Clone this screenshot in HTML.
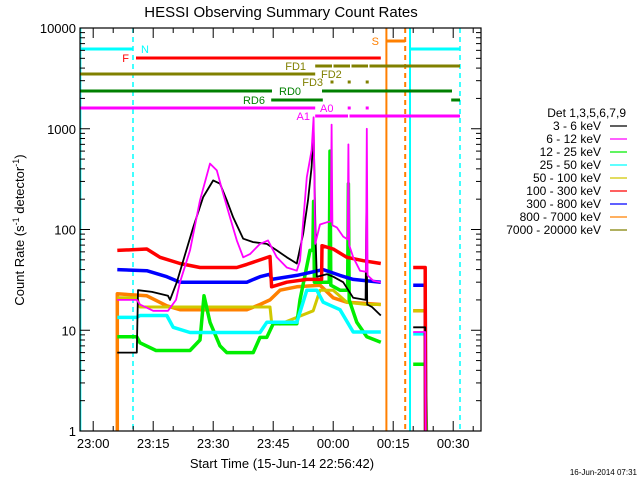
<!DOCTYPE html>
<html><head><meta charset="utf-8"><style>
body{margin:0;background:#fff;}
svg{display:block;font-family:"Liberation Sans",sans-serif;}
</style></head><body>
<svg id="c" width="640" height="480" xmlns="http://www.w3.org/2000/svg">
<rect width="640" height="480" fill="#fff"/>
<text x="281" y="17" font-size="15" text-anchor="middle">HESSI Observing Summary Count Rates</text>
<text transform="translate(24,230) rotate(-90)" font-size="13" text-anchor="middle">Count Rate (s<tspan font-size="9" dy="-5">-1</tspan><tspan dy="5"> detector</tspan><tspan font-size="9" dy="-5">-1</tspan><tspan dy="5">)</tspan></text>
<text x="282" y="468" font-size="13" text-anchor="middle">Start Time (15-Jun-14 22:56:42)</text>
<text x="637" y="475" font-size="8" text-anchor="end">16-Jun-2014 07:31</text>
<g id="marks"></g>
<g id="axes"></g>
<g id="legend"></g>
</svg>
<script>
const xTickLabels=["23:00","23:15","23:30","23:45","00:00","00:15","00:30"];
const yTickLabels=["1","10","100","1000","10000"];
const seriesNames=["3 - 6 keV","6 - 12 keV","12 - 25 keV","25 - 50 keV","50 - 100 keV","100 - 300 keV","300 - 800 keV","800 - 7000 keV","7000 - 20000 keV"];
const seriesColors=["#000","#ff00ff","#00ee00","#00ffff","#d0c800","#ff0000","#0000ff","#ff8000","#808000"];
const blackT=[9.33,14.2,14.5,18,22,22.5,24.2,25.8,28.3,30.8,33.3,35,36.7,38.3,40.8,43.3,46.7,49.2,51.7,54.2,55.8,57,57.9,58.4,58.9,59.2,61.7,63.3,65.8,68.3,71.4,71.6,71.8,73,75.2,null,83.3,86.3,86.4];
const blackV=[6,6,25,24,22,20,30,49,105,210,307,285,195,132,81,75,72,62,53,46,91,195,417,950,80,34,36,34,30,21,20,150,18,17,14,null,10.7,10.7,1];
const magT=[9.33,14.2,15,18.3,22,24,25,27.5,30,32.5,34.2,35.8,37.5,39.2,40.8,42.5,45,47,49.2,51.7,54.2,55,56.7,57.9,58.4,58.8,60,61.7,62.7,62.9,63.1,64.2,65.8,66.9,67.1,67.3,68.3,70,71.5,71.7,71.9,73.3,75.2,null,83.3,86.3,86.4];
const magV=[20,20,18,15.6,15.6,20,30,62,195,451,386,226,132,78,53,57,72,78,53,42,39,49,330,611,1300,72,112,118,120,1100,110,105,85,80,700,70,53,39,38,1000,35,31,30,null,9.6,9.6,1];
const greenT=[9.33,14.2,15,19,27.5,30,31,32.5,35,36.7,43.3,45,46.7,48.3,54.2,55,57.5,58.2,58.4,58.6,60,62.3,62.5,62.7,65,66.9,67.1,67.3,69.2,71.7,75.2,null,83.3,86.3,86.6];
const greenV=[8.6,8.6,7.5,6.3,6.3,8,22,12,7,6,6,8.5,8.5,11.6,11.6,20,62,62,190,30,30,30,600,28,25,25,285,20,12,8.6,7.6,null,4.6,4.6,1];
const cyanT=[9.33,14.2,15,21.7,23.3,27.5,45,46.7,54.2,56.7,59.2,60.8,65,68.3,75.2,null,83.3,86.3,86.4];
const cyanV=[13.4,13.4,14,14,10.7,9.5,9.5,12,12,25,25,19,16,9.6,9.6,null,9.2,9.2,1];
const yellowT=[9.33,14.2,15,47.5,47.9,50,54.2,58.3,60,63.3,66.7,71.7,75.2,null,83.3,86.3,86.4];
const yellowV=[21,21,17,17,12,11.5,13.4,15.6,25,25,19,18,18,null,15.6,15.6,1];
const redT=[9.33,16.7,20,25,30,39.2,41.7,47.5,47.9,51.7,56.7,60.4,60.5,63.3,66.7,70.8,75.2,null,83.3,86.3,86.4];
const redV=[62,64,53,46,42,42,45,54,27,30,32,32,69,64,53,49,46,null,42,42,1];
const blueT=[9.33,16.7,21.7,25,41.7,45,47.5,47.9,54.2,60.8,65,68.3,75.2,null,83.3,86.3,86.4];
const blueV=[40,39,34,30,30,34,36,32,35,40,35,32,30,null,28,28,1];
const orangeT=[9.33,9.33,16.7,21.7,25,41.7,45,47.5,50,54.2,60,63.3,66.7,75.2,null,83.3,86.3,86.4];
const orangeV=[1,23,22,17.5,16,16,18,20,25,27,28,21,19,18,null,15.6,15.6,1];

const X0=80,X1=481,Y0=28,Y1=431;
function xs(t){return X0+t*4;}
function ys(v){return Y0+(4-Math.log10(v))*(Y1-Y0)/4;}
const NS="http://www.w3.org/2000/svg";
function mk(tag,attrs,parent){const e=document.createElementNS(NS,tag);for(const k in attrs)e.setAttribute(k,attrs[k]);parent.appendChild(e);return e;}
const marks=document.getElementById('marks'),axes=document.getElementById('axes'),legend=document.getElementById('legend');

const vlines=[[0.15,"#00ffff",""],[13.25,"#00ffff","5,4"],[76.6,"#ff8000",""],[81.3,"#ff8000","5,4"],[82.5,"#00ffff",""],[95,"#00ffff","5,4"]];
vlines.forEach(l=>{const e=mk('line',{x1:xs(l[0]),x2:xs(l[0]),y1:Y0,y2:Y1,stroke:l[1],'stroke-width':l[0]>76&&l[0]<83?2:1.5,'stroke-dasharray':l[2]},marks);

});

const series=[[orangeT,orangeV,7,3.5],[yellowT,yellowV,4,3],[greenT,greenV,2,3.5],[cyanT,cyanV,3,3.5],[blueT,blueV,6,3.5],[redT,redV,5,3.5],[blackT,blackV,0,1.8],[magT,magV,1,1.8]];
series.forEach(s=>{let segs=[[]];s[0].forEach((t,i)=>{if(t===null){segs.push([]);return;}segs[segs.length-1].push(xs(t).toFixed(1)+','+ys(Math.max(1,s[1][i])).toFixed(1));});
segs.forEach(p=>{const e=mk('polyline',{points:p.join(' '),fill:'none',stroke:seriesColors[s[2]],'stroke-width':s[3],'stroke-linejoin':'round'},marks);

});});

const bars=[[0,13.3,49,"#00ffff"],[14,75.2,58,"#ff0000"],[58.8,95,66,"#808000"],[0,58.8,74,"#808000"],[0,48,91,"#008000"],[60.5,93,91,"#008000"],[47.8,60.7,100,"#008000"],[92.8,95,100,"#008000"],[0,58.8,108,"#ff00ff"],[58.8,95,116,"#ff00ff"],[76.6,81.3,41,"#ff8000"],[82.5,95,49,"#00ffff"]];
bars.forEach(b=>{const e=mk('line',{x1:xs(b[0]),x2:xs(b[1]),y1:b[2],y2:b[2],stroke:b[3],'stroke-width':3},marks);

});
[[63,66,"#fff"],[67.5,66,"#fff"],[72,66,"#fff"],[67,116,"#fff"]].forEach(g=>{mk('rect',{x:xs(g[0]),y:g[1]-2,width:1.5,height:4,fill:g[2]},marks);});
[[63,82,"#808000"],[67.3,82,"#808000"],[71.8,82,"#808000"],[67.3,108,"#ff00ff"],[71.8,108,"#ff00ff"]].forEach(d=>{const e=mk('rect',{x:xs(d[0])-1.5,y:d[1]-1.5,width:3,height:3,fill:d[2]},marks);

});
const flabels=[["N",141,53,"#00ffff","start"],["F",129,62,"#ff0000","end"],["FD1",306,70,"#808000","end"],["FD2",321,78,"#808000","start"],["FD3",323,86,"#808000","end"],["RD0",279,95,"#008000","start"],["RD6",265,104,"#008000","end"],["A0",320,112,"#ff00ff","start"],["A1",310,120,"#ff00ff","end"],["S",379,45,"#ff8000","end"]];
flabels.forEach(f=>{const e=mk('text',{x:f[1],y:f[2],fill:f[3],'font-size':11,'text-anchor':f[4]},marks);e.textContent=f[0];

});

const fr=mk('rect',{x:X0,y:Y0,width:X1-X0,height:Y1-Y0,fill:'none',stroke:'#000','stroke-width':1.2},axes);


for(let d=0;d<4;d++){for(let m=2;m<=9;m++){const y=ys(m*Math.pow(10,d));mk('line',{x1:X0,x2:X0+5,y1:y,y2:y,stroke:'#000'},axes);mk('line',{x1:X1-5,x2:X1,y1:y,y2:y,stroke:'#000'},axes);}}
yTickLabels.forEach((l,i)=>{const y=ys(Math.pow(10,i));mk('line',{x1:X0,x2:X0+10,y1:y,y2:y,stroke:'#000'},axes);mk('line',{x1:X1-10,x2:X1,y1:y,y2:y,stroke:'#000'},axes);
const e=mk('text',{x:X0-4,y:y+5,'font-size':13,'text-anchor':'end'},axes);e.textContent=l;

});
for(let t=3.3;t<=100;t+=5){const x=xs(t);const major=Math.round((t-3.3)/5)%3===0;const L=major?10:5;mk('line',{x1:x,x2:x,y1:Y1-L,y2:Y1,stroke:'#000'},axes);mk('line',{x1:x,x2:x,y1:Y0,y2:Y0+L,stroke:'#000'},axes);}
xTickLabels.forEach((l,i)=>{const e=mk('text',{x:xs(3.3+15*i),y:448,'font-size':13,'text-anchor':'middle'},axes);e.textContent=l;

});

const lh=mk('text',{x:626,y:117,'font-size':12,'text-anchor':'end'},legend);lh.textContent="Det 1,3,5,6,7,9";


seriesNames.forEach((n,i)=>{const y=126+i*13;const t=mk('text',{x:601,y:y+4,'font-size':12,'text-anchor':'end'},legend);t.textContent=n;


mk('line',{x1:610,x2:627,y1:y,y2:y,stroke:seriesColors[i],'stroke-width':1.3},legend);});
</script>
</body></html>
